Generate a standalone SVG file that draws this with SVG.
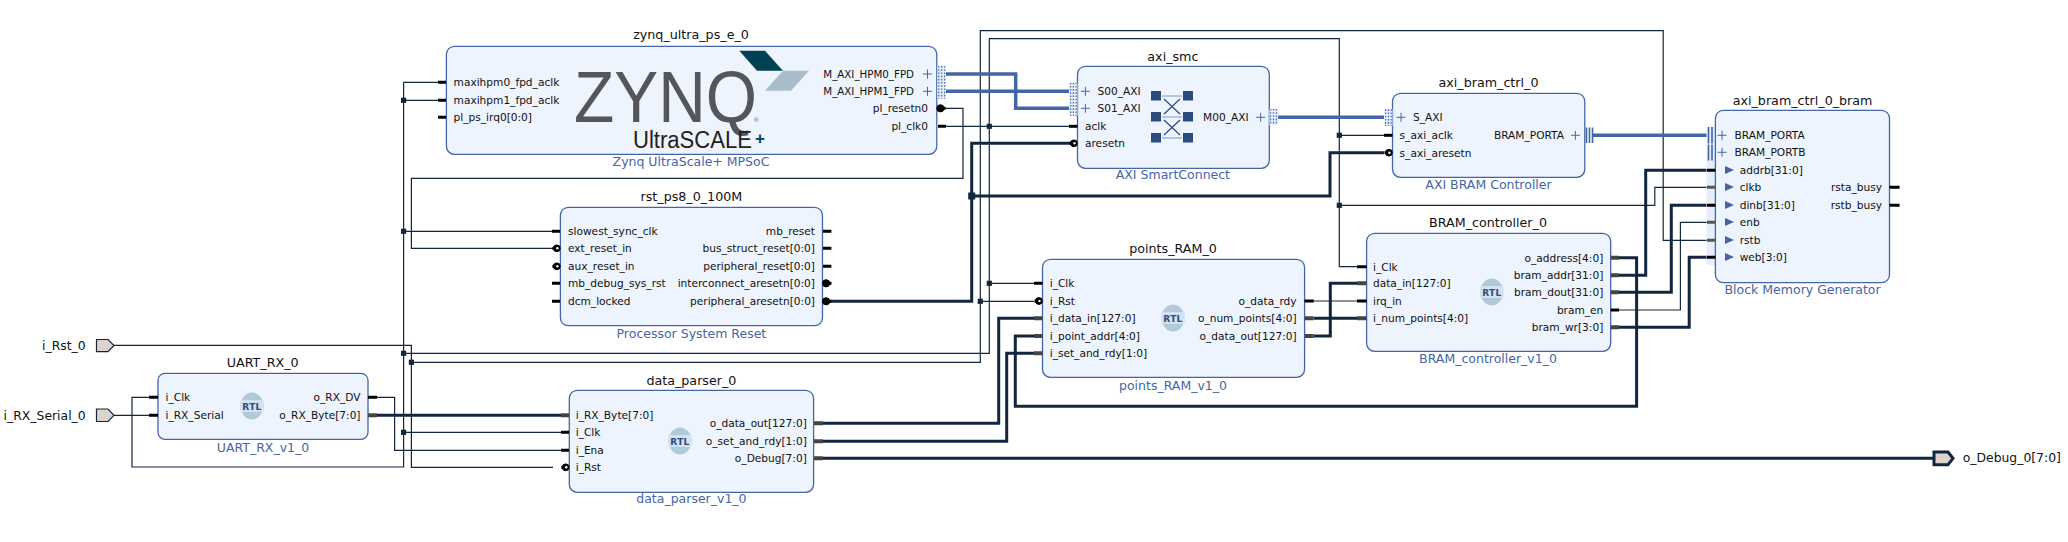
<svg xmlns="http://www.w3.org/2000/svg" width="2068" height="542" viewBox="0 0 2068 542">
<style>
text{font-family:"DejaVu Sans",sans-serif;fill:#111}
.p{font-size:10.6px}.e{text-anchor:end}
.ti{font-size:12.7px;text-anchor:middle}
.su{font-size:12.5px;text-anchor:middle;fill:#4466a6}
.ext{font-size:12.4px}
.box{fill:#edf4fd;stroke:#4466a6;stroke-width:1.3}
.w,.t,.b{fill:none;stroke-linejoin:miter}
.w{stroke:#13263f;stroke-width:1.2}
.t{stroke:#13263f;stroke-width:3}
.b{stroke:#4466a6;stroke-width:3.5}
.j{fill:#13263f}
.s{stroke:#000;stroke-width:3}
.sb{stroke:#444;stroke-width:4}
.inv{fill:#000;stroke:#000}
.dot{fill:#fff}
.pl{stroke:#4466a6;stroke-width:1;fill:none}
.tri{fill:#4466a6}
.bar{stroke:#4466a6;stroke-width:1.6}
.dash{stroke:#4f72b0;stroke-width:1.3;stroke-dasharray:1.6 1.6}
.halo{fill:#e6eef9}
.rtlbg{fill:#b0cada}
.rtlband{fill:#d3e2ee}
.rtl{font-family:"DejaVu Sans",sans-serif;font-size:9px;font-weight:700;fill:#2c4c80;text-anchor:middle;letter-spacing:.3px}
.port{fill:#dcd3cf;stroke:#13263f;stroke-width:1.2}
.sq{fill:#2c4c80}
.xl{stroke:#2c4c80;stroke-width:1.2;fill:none}
.xh{stroke:#9db6d6;stroke-width:1.6;fill:none}
</style>
<defs>
<g id="rtlicon"><ellipse class="rtlbg" cx="0" cy="0" rx="11.5" ry="13.4"/><rect class="rtlband" x="-11.5" y="-6" width="23" height="12"/><text class="rtl" x="0" y="3.5">RTL</text></g>
<path id="plus" class="pl" d="M-4.5,0H4.5M0,-4.5V4.5"/>
<g id="invL"><line class="s" x1="-3" y1="0" x2="-8" y2="0"/><circle class="inv" cx="-3.6" cy="0" r="3.4"/><circle class="dot" cx="-3" cy="0" r="1.2"/></g>
<g id="invR"><line class="s" x1="4" y1="0" x2="9" y2="0"/><circle class="inv" cx="3.6" cy="0" r="3.6"/></g>
<polygon id="tr" class="tri" points="0,-4 9,0 0,4"/>
</defs>

<g id="connectors">
<path class="w" d="M438,82.3H403.6V467H132V397.3H149"/>
<path class="w" d="M403.6,100.3H438M403.6,231.3H552M403.6,432.3H561"/>
<path class="w" d="M403.6,353.3H989.3V38.7H1339.3V266.7H1357"/>
<path class="w" d="M946,126.3H1070M989.3,283.3H1034"/>
<path class="w" d="M1339.3,135.3H1384M1339.3,205.3H1654.8V187.3H1707"/>
<path class="w" d="M114,345.3H411.4V467.3H553"/>
<path class="w" d="M411.4,362.3H980.3V30.7H1663.2V240.3H1707M980.3,301.3H1034"/>
<path class="w" d="M946,108.3H963V178.3H411.4V248.3H553"/>
<path class="w" d="M114,415.3H149M377,397.3H394.6V450.3H561"/>
<path class="w" d="M1314,301H1357M1619,310H1680.4V222.3H1707"/>
<path class="t" d="M377,415.3H561"/>
<path class="t" d="M831,301.3H971.7V143.3H1070M971.7,196H1330V152.7H1384"/>
<path class="t" d="M823,423.3H998.7V318.3H1034"/>
<path class="t" d="M823,441.3H1006.7V353.3H1034"/>
<path class="t" d="M1034,336H1015.3V406.3H1636.6V257.7H1619"/>
<path class="t" d="M1314,336H1330.3V283.3H1357M1314,318.3H1357"/>
<path class="t" d="M1619,275.3H1645.7V170.3H1707M1619,292.3H1671.3V205.3H1707M1619,327.3H1689.2V257.3H1707"/>
<path class="t" d="M823,458.3H1934"/>
<path class="b" d="M946,74H1015.7V108.3H1069M946,91.3H1069M1278,117.3H1384M1593,135.3H1707"/>
<rect class="j" x="401" y="350.7" width="5.2" height="5.2"/>
<rect class="j" x="408.8" y="359.7" width="5.2" height="5.2"/>
<rect class="j" x="401" y="429.7" width="5.2" height="5.2"/>
<rect class="j" x="401" y="97.7" width="5.2" height="5.2"/>
<rect class="j" x="401" y="228.7" width="5.2" height="5.2"/>
<rect class="j" x="986.7" y="123.7" width="5.2" height="5.2"/>
<rect class="j" x="986.7" y="280.7" width="5.2" height="5.2"/>
<rect class="j" x="977.7" y="298.7" width="5.2" height="5.2"/>
<rect class="j" x="1336.7" y="132.7" width="5.2" height="5.2"/>
<rect class="j" x="1336.7" y="202.7" width="5.2" height="5.2"/>
<rect class="j" x="968.2" y="192.5" width="7" height="7"/>
</g>

<g id="i_Rst_0"><polygon class="port" points="96.5,339.5 108,339.5 114,345.5 108,351.7 96.5,351.7"/><text class="ext e" x="85.7" y="349.5">i_Rst_0</text></g>
<g id="i_RX_Serial_0"><polygon class="port" points="96.5,409 108,409 114,415.3 108,421.5 96.5,421.5"/><text class="ext e" x="85.7" y="419.5">i_RX_Serial_0</text></g>
<g id="o_Debug_0"><polygon class="port" style="stroke-width:3" points="1934,452 1948,452 1953,458.3 1948,464.7 1934,464.7"/><text class="ext" x="1962.7" y="462.3">o_Debug_0[7:0]</text></g>

<g id="UART_RX_0">
<text class="ti" x="262.7" y="367.3">UART_RX_0</text>
<rect class="box" x="158" y="373.3" width="210" height="66" rx="7"/>
<path class="s" d="M149,397.3H158M149,415.3H158M368,397.3H377"/><path class="sb" d="M368,415.3H377"/>
<text class="p" x="165.5" y="401">i_Clk</text><text class="p" x="165.5" y="419">i_RX_Serial</text>
<text class="p e" x="360.5" y="401">o_RX_DV</text><text class="p e" x="360.5" y="419">o_RX_Byte[7:0]</text>
<use href="#rtlicon" x="252" y="406"/>
<text class="su" x="263" y="452">UART_RX_v1_0</text>
</g>

<g id="data_parser_0">
<text class="ti" x="691.4" y="385">data_parser_0</text>
<rect class="box" x="569.3" y="390.3" width="244.3" height="102" rx="8"/>
<path class="s" d="M561,432.3H569M561,450.3H569"/><path class="sb" d="M561,415.3H569"/>
<use href="#invL" x="569.3" y="467.3"/>
<path class="sb" d="M814,423.3H823M814,441.3H823M814,458.3H823"/>
<text class="p" x="575.7" y="419">i_RX_Byte[7:0]</text><text class="p" x="575.7" y="436">i_Clk</text><text class="p" x="575.7" y="454">i_Ena</text><text class="p" x="575.7" y="471">i_Rst</text>
<text class="p e" x="806.8" y="427">o_data_out[127:0]</text><text class="p e" x="806.8" y="445">o_set_and_rdy[1:0]</text><text class="p e" x="806.8" y="462">o_Debug[7:0]</text>
<use href="#rtlicon" x="680" y="441"/>
<text class="su" x="691.4" y="503.3">data_parser_v1_0</text>
</g>

<g id="zynq_ultra_ps_e_0">
<text class="ti" x="691" y="39.3">zynq_ultra_ps_e_0</text>
<rect class="box" x="446.4" y="46.3" width="490.4" height="108" rx="8"/>
<polygon fill="#004152" points="739.3,50.7 765,50.7 782.9,70.7 757,70.7"/>
<polygon fill="#a9bcc9" points="782.9,70.7 809,70.7 791,90.7 765,90.7"/>
<text x="574" y="121.7" font-size="72" textLength="183" lengthAdjust="spacingAndGlyphs" style="font-family:'Liberation Sans',sans-serif;fill:#54565b">ZYNQ</text>
<text x="754" y="122" font-size="6" style="font-family:'Liberation Sans',sans-serif;fill:#54565b">®</text>
<text x="633" y="148.3" font-size="23.5" textLength="119" lengthAdjust="spacingAndGlyphs" style="font-family:'Liberation Sans',sans-serif;fill:#222">UltraSCALE</text>
<text x="755" y="144" font-size="17" font-weight="700" style="font-family:'Liberation Sans',sans-serif;fill:#004152">+</text>
<path class="s" d="M438,82.3H446M438,100.3H446M438,117.3H446M938,126.3H946"/>
<text class="p" x="453.6" y="86">maxihpm0_fpd_aclk</text><text class="p" x="453.6" y="104">maxihpm1_fpd_aclk</text><text class="p" x="453.6" y="121">pl_ps_irq0[0:0]</text>
<text class="p" x="823.3" y="78" textLength="90.7" lengthAdjust="spacingAndGlyphs">M_AXI_HPM0_FPD</text><text class="p" x="823.3" y="95" textLength="90.7" lengthAdjust="spacingAndGlyphs">M_AXI_HPM1_FPD</text>
<text class="p e" x="928" y="112">pl_resetn0</text><text class="p e" x="928" y="130">pl_clk0</text>
<use href="#plus" x="927.5" y="74"/><use href="#plus" x="927.5" y="91.3"/>
<rect class="halo" x="937.5" y="66" width="8.5" height="32.7"/>
<path class="dash" d="M938.8,66V98.7M941.7,66V98.7M944.6,66V98.7"/>
<use href="#invR" x="936.8" y="108.3"/>
<text class="su" x="691" y="166">Zynq UltraScale+ MPSoC</text>
</g>

<g id="rst_ps8_0_100M">
<text class="ti" x="691.4" y="200.7">rst_ps8_0_100M</text>
<rect class="box" x="560.4" y="207.3" width="262.1" height="118.4" rx="8"/>
<path class="s" d="M552,231.3H560M552,283.3H560M552,301.3H560M823,231.3H831.4M823,248.3H831.4M823,266.3H831.4"/>
<use href="#invL" x="560.4" y="248.3"/><use href="#invL" x="560.4" y="266.3"/>
<use href="#invR" x="822.5" y="283.3"/><use href="#invR" x="822.5" y="301.3"/>
<text class="p" x="568" y="235">slowest_sync_clk</text><text class="p" x="568" y="252">ext_reset_in</text><text class="p" x="568" y="270">aux_reset_in</text><text class="p" x="568" y="287">mb_debug_sys_rst</text><text class="p" x="568" y="305">dcm_locked</text>
<text class="p e" x="815" y="235">mb_reset</text><text class="p e" x="815" y="252">bus_struct_reset[0:0]</text><text class="p e" x="815" y="270">peripheral_reset[0:0]</text><text class="p e" x="815" y="287">interconnect_aresetn[0:0]</text><text class="p e" x="815" y="305">peripheral_aresetn[0:0]</text>
<text class="su" x="691.4" y="337.7">Processor System Reset</text>
</g>

<g id="axi_smc">
<text class="ti" x="1172.9" y="60.7">axi_smc</text>
<rect class="box" x="1077.5" y="66.3" width="191.8" height="102" rx="8"/>
<rect class="halo" x="1069.3" y="82.7" width="8.2" height="33.3"/>
<path class="dash" d="M1070.6,82.7V116M1073.4,82.7V116M1076.2,82.7V116"/>
<rect class="halo" x="1269.3" y="109" width="8.6" height="16"/>
<path class="dash" d="M1270.6,109V125M1273.5,109V125M1276.4,109V125"/>
<path class="s" d="M1069,126.3H1077.5"/><use href="#invL" x="1077.5" y="143.3"/>
<use href="#plus" x="1085.4" y="91.3"/><use href="#plus" x="1085.4" y="108.3"/><use href="#plus" x="1260.7" y="117.3"/>
<text class="p" x="1097.5" y="95">S00_AXI</text><text class="p" x="1097.5" y="112">S01_AXI</text><text class="p" x="1085" y="130">aclk</text><text class="p" x="1085" y="147">aresetn</text>
<text class="p e" x="1248.6" y="121">M00_AXI</text>
<path class="xh" d="M1162,96H1182M1162,117H1182M1162,138H1182"/>
<path class="xl" d="M1164,99L1180,114M1180,99L1164,114M1164,120L1180,135M1180,120L1164,135"/>
<rect class="sq" x="1151" y="91" width="10" height="9.5"/><rect class="sq" x="1183" y="91" width="10" height="9.5"/>
<rect class="sq" x="1151" y="112" width="10" height="9.5"/><rect class="sq" x="1183" y="112" width="10" height="9.5"/>
<rect class="sq" x="1151" y="133" width="10" height="9.5"/><rect class="sq" x="1183" y="133" width="10" height="9.5"/>
<text class="su" x="1172.9" y="179.3">AXI SmartConnect</text>
</g>

<g id="axi_bram_ctrl_0">
<text class="ti" x="1488.5" y="86.7">axi_bram_ctrl_0</text>
<rect class="box" x="1392.5" y="93.3" width="192.3" height="84" rx="8"/>
<rect class="halo" x="1384.3" y="109.3" width="8.2" height="16.7"/>
<path class="dash" d="M1385.6,109.3V126M1388.4,109.3V126M1391.2,109.3V126"/>
<path class="s" d="M1384,135.3H1392.5"/><use href="#invL" x="1392.5" y="152.7"/>
<use href="#plus" x="1401" y="117.3"/><use href="#plus" x="1575.4" y="135.3"/>
<text class="p" x="1413" y="121">S_AXI</text><text class="p" x="1399.6" y="139">s_axi_aclk</text><text class="p" x="1399.6" y="156.5">s_axi_aresetn</text>
<text class="p e" x="1564" y="139">BRAM_PORTA</text>
<path class="bar" d="M1586.5,127.5V143M1589.5,127.5V143M1592.5,127.5V143"/>
<text class="su" x="1488.5" y="189.3">AXI BRAM Controller</text>
</g>

<g id="axi_bram_ctrl_0_bram">
<text class="ti" x="1802.6" y="105">axi_bram_ctrl_0_bram</text>
<rect class="halo" x="1706.5" y="126.7" width="9" height="138.3"/>
<rect class="box" x="1715.4" y="110.3" width="174.1" height="172.4" rx="8"/>
<path class="bar" d="M1708.5,127V143.5M1712,127V143.5M1708.5,144.5V160.5M1712,144.5V160.5"/>
<path class="s" d="M1707,170.3H1715.4M1707,205.3H1715.4M1707,257.3H1715.4M1889.5,187.3H1899.6M1889.5,205.3H1899.6"/>
<path class="s" style="stroke:#555" d="M1707,187.3H1715.4M1707,222.3H1715.4M1707,240.3H1715.4"/>
<use href="#plus" x="1722" y="135.3"/><use href="#plus" x="1722" y="152.3"/>
<use href="#tr" x="1725" y="170"/><use href="#tr" x="1725" y="187"/><use href="#tr" x="1725" y="205"/><use href="#tr" x="1725" y="222"/><use href="#tr" x="1725" y="240"/><use href="#tr" x="1725" y="257"/>
<text class="p" x="1734.6" y="139">BRAM_PORTA</text><text class="p" x="1734.6" y="156">BRAM_PORTB</text>
<text class="p" x="1739.7" y="174">addrb[31:0]</text><text class="p" x="1739.7" y="191">clkb</text><text class="p" x="1739.7" y="209">dinb[31:0]</text><text class="p" x="1739.7" y="226">enb</text><text class="p" x="1739.7" y="244">rstb</text><text class="p" x="1739.7" y="261">web[3:0]</text>
<text class="p e" x="1882" y="191">rsta_busy</text><text class="p e" x="1882" y="209">rstb_busy</text>
<text class="su" x="1802.6" y="294">Block Memory Generator</text>
</g>

<g id="points_RAM_0">
<text class="ti" x="1173" y="253.3">points_RAM_0</text>
<rect class="box" x="1042.5" y="259.3" width="262.1" height="118" rx="8"/>
<path class="s" d="M1034,283.3H1042.5M1304.6,301H1313.8"/>
<use href="#invL" x="1042.5" y="301"/>
<path class="sb" d="M1034,318.3H1042.5M1034,336H1042.5M1034,353.3H1042.5M1304.6,318.3H1313.8M1304.6,336H1313.8"/>
<text class="p" x="1049.7" y="287">i_Clk</text><text class="p" x="1049.7" y="305">i_Rst</text><text class="p" x="1049.7" y="322">i_data_in[127:0]</text><text class="p" x="1049.7" y="340">i_point_addr[4:0]</text><text class="p" x="1049.7" y="357">i_set_and_rdy[1:0]</text>
<text class="p e" x="1296.6" y="305">o_data_rdy</text><text class="p e" x="1296.6" y="322">o_num_points[4:0]</text><text class="p e" x="1296.6" y="340">o_data_out[127:0]</text>
<use href="#rtlicon" x="1173" y="318"/>
<text class="su" x="1173" y="390">points_RAM_v1_0</text>
</g>

<g id="BRAM_controller_0">
<text class="ti" x="1488" y="226.7">BRAM_controller_0</text>
<rect class="box" x="1366.6" y="233.3" width="244.1" height="118" rx="8"/>
<path class="s" d="M1357,266.7H1366.6M1357,301H1366.6M1610.7,310H1619"/>
<path class="sb" d="M1357,283.3H1366.6M1357,318.3H1366.6M1610.7,257.7H1619M1610.7,275.3H1619M1610.7,292.3H1619M1610.7,327.3H1619"/>
<text class="p" x="1373" y="271">i_Clk</text><text class="p" x="1373" y="287">data_in[127:0]</text><text class="p" x="1373" y="305">irq_in</text><text class="p" x="1373" y="322">i_num_points[4:0]</text>
<text class="p e" x="1603.3" y="261.5">o_address[4:0]</text><text class="p e" x="1603.3" y="279">bram_addr[31:0]</text><text class="p e" x="1603.3" y="296">bram_dout[31:0]</text><text class="p e" x="1603.3" y="314">bram_en</text><text class="p e" x="1603.3" y="331">bram_wr[3:0]</text>
<use href="#rtlicon" x="1491.8" y="292"/>
<text class="su" x="1488" y="363.3">BRAM_controller_v1_0</text>
</g>
</svg>
